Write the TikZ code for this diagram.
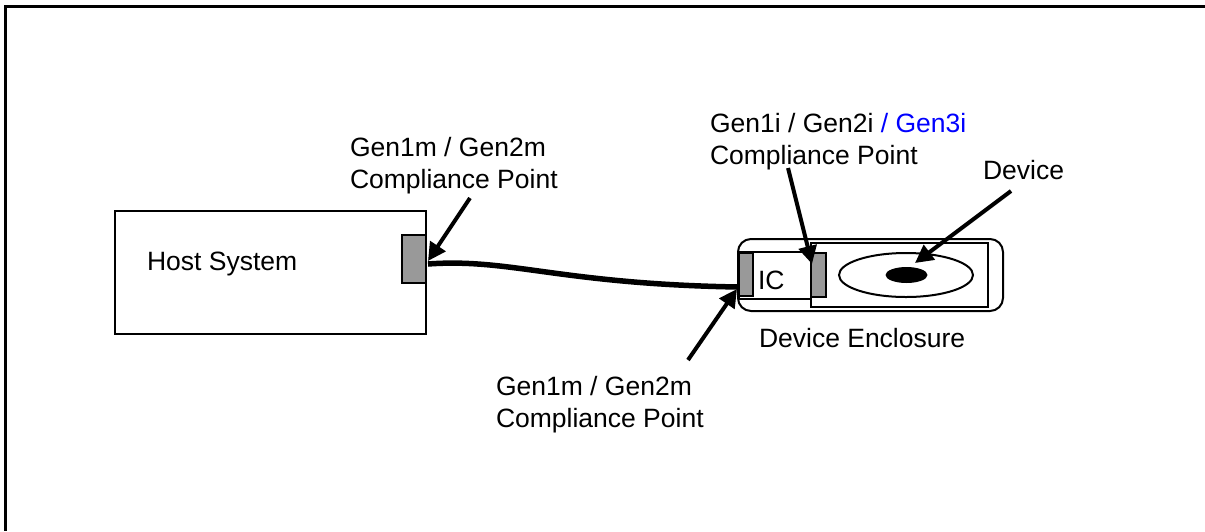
\documentclass[tikz,border=0pt]{standalone}
\usepackage{fontspec}
\setmainfont{Liberation Sans}
\usetikzlibrary{arrows.meta}
\tikzset{
  x=1pt,y=-1pt,
  lbl/.style={anchor=base west,inner sep=0pt,outer sep=0pt,font=\fontsize{26.5}{32}\selectfont},
  boxline/.style={draw=black,line width=2pt,fill=white},
  graybox/.style={draw=black,line width=2pt,fill=black!40},
  pointer/.style={draw=black,line width=4pt,-{Triangle[length=18pt,width=18pt]}},
  cable/.style={draw=black,line width=5.5pt},
  frameline/.style={draw=black,line width=3pt}
}
\definecolor{genblue}{RGB}{0,0,255}
\begin{document}
\begin{tikzpicture}
\useasboundingbox (0,0) rectangle (1205,531);
\fill[white] (0,0) rectangle (1205,531);
\draw[frameline] (1205,6) -- (5.5,6) -- (5.5,531);
% host
\draw[boxline] (115,211) rectangle (426,334);
\draw[graybox] (402,235) rectangle (426,283);
% enclosure
\draw[boxline,rounded corners=13pt] (738,239) rectangle (1003,311);
\draw[boxline] (811,243) rectangle (988,307);
\draw[boxline] (739,252) rectangle (811,299);
\draw[graybox] (739,253) rectangle (753,296);
\draw[graybox] (811,253) rectangle (826,297);
\draw[draw=black,line width=2pt] (906,275) ellipse [x radius=67,y radius=22];
\fill[black] (906.5,275) ellipse [x radius=21,y radius=8];
% cable
\coordinate (cableA) at (428,264);
\coordinate (cableB) at (738,287);
\draw[cable] (cableA) .. controls (510,258) and (560,284) .. (cableB);
% labels
\node[lbl] (hostlabel) at (147,270) {Host System};
\node[lbl] (iclabel) at (758,289) {IC};
\node[lbl] (enclabel) at (759,347) {Device Enclosure};
\node[lbl] (devlabel) at (983,179) {Device};
\node[lbl] (m1a) at (350,156) {Gen1m / Gen2m};
\node[lbl] (m1b) at (350,188) {Compliance Point};
\node[lbl] (m2a) at (496,395) {Gen1m / Gen2m};
\node[lbl] (m2b) at (496,427) {Compliance Point};
\node[lbl] (i1a) at (710,132) {Gen1i / Gen2i \textcolor{genblue}{/ Gen3i}};
\node[lbl] (i1b) at (710,164) {Compliance Point};
% pointers
\coordinate (p1s) at (470,198); \coordinate (p1e) at (428,261);
\coordinate (p2s) at (688,360); \coordinate (p2e) at (737,289);
\coordinate (p3s) at (788,168); \coordinate (p3e) at (812,264);
\coordinate (p4s) at (1011,191); \coordinate (p4e) at (915,263);
\draw[pointer] (p1s) -- (p1e);
\draw[pointer] (p2s) -- (p2e);
\draw[pointer] (p3s) -- (p3e);
\draw[pointer] (p4s) -- (p4e);
\end{tikzpicture}
\end{document}
